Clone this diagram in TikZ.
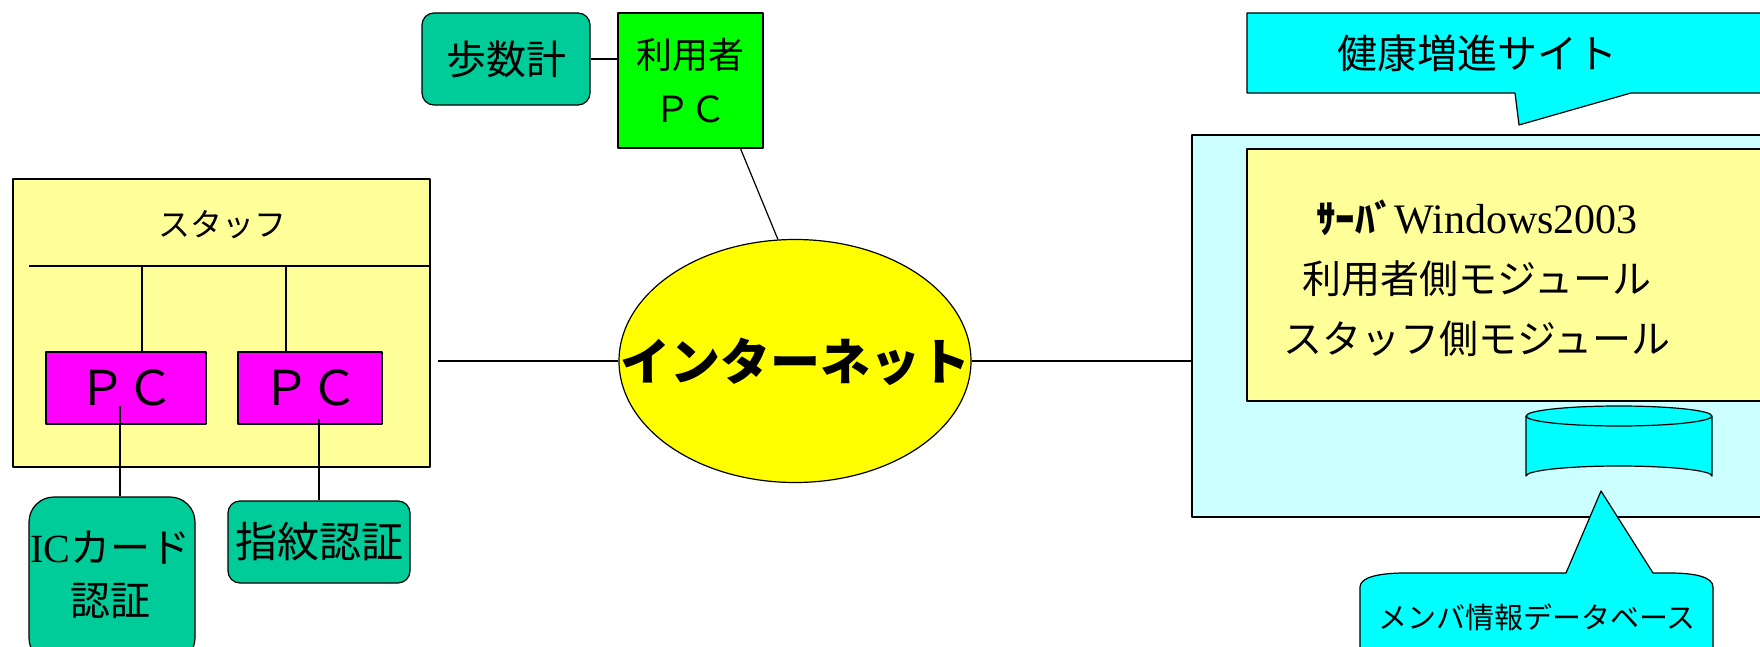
\documentclass[tikz,border=0pt]{standalone}
\usepackage{fontspec}
\setmainfont{Liberation Serif}
\newfontfamily\jp{Noto Sans CJK JP}
\usetikzlibrary{shapes.geometric}
\definecolor{teal}{HTML}{00CC99}
\definecolor{pcgreen}{HTML}{00FF00}
\definecolor{netyellow}{HTML}{FFFF00}
\definecolor{paleyellow}{HTML}{FFFF99}
\definecolor{pcmagenta}{HTML}{FF00FF}
\definecolor{sitecyan}{HTML}{00FFFF}
\definecolor{palecyan}{HTML}{CCFFFF}
\newcommand{\fsz}[1]{\fontsize{#1}{#1}\selectfont}
\tikzset{
	box/.style={draw,line width=1.2pt,inner sep=0pt,align=center},
	device/.style={box,fill=teal,rounded corners=12pt},
	conn/.style={line width=1.2pt},
}
\begin{document}
\begin{tikzpicture}[x=1pt,y=-1pt,line join=round,font=\jp]
	\useasboundingbox (0,0) rectangle (1760,647);
	\clip (0,0) rectangle (1760,647);
	% user side
	\node[device,minimum width=168pt,minimum height=92pt,font=\jp\fsz{40}] (pedometer) at (506,59) {歩数計};
	\node[box,fill=pcgreen,minimum width=145pt,minimum height=135pt,font=\jp\fontsize{36}{54}\selectfont] (userpc) at (690.5,80.5) {利用者\\ＰＣ};
	\node[box,ellipse,fill=netyellow,minimum width=352pt,minimum height=243pt] (internet) at (795,361) {};
	\node[font=\jp\bfseries\fsz{50}] (nettext) at (795,362) {インターネット};
	% staff side
	\node[box,fill=paleyellow,minimum width=417pt,minimum height=288pt] (staff) at (221.5,323) {};
	\node[font=\jp\fsz{32}] (stafftext) at (222,225) {スタッフ};
	\coordinate (busleft) at (29,266);
	\coordinate (bus1) at (142,266);
	\coordinate (bus2) at (286,266);
	\node[box,fill=pcmagenta,minimum width=160pt,minimum height=72pt,font=\jp\fsz{48}] (pc1) at (126,388) {ＰＣ};
	\node[box,fill=pcmagenta,minimum width=144pt,minimum height=72pt,font=\jp\fsz{48}] (pc2) at (310,388) {ＰＣ};
	\node[device,rounded corners=25pt,minimum width=166pt,minimum height=166pt] (iccard) at (112,580) {};
	\node[font=\jp\fontsize{40}{53}\selectfont,align=center] (ictext) at (110,575) {{\rmfamily IC}カード\\認証};
	\node[device,minimum width=182pt,minimum height=82pt,font=\jp\fsz{42}] (finger) at (319,542) {指紋認証};
	\coordinate (pc1dot) at (120,406);
	\coordinate (pc2dot) at (319,419);
	% site
	\draw[conn,fill=sitecyan] (1247,13) -- (1775,13) -- (1775,93) -- (1631,93) -- (1519,125) -- (1515,93) -- (1247,93) -- cycle;
	\node[font=\jp\fsz{40}] (sitetext) at (1477,53) {健康増進サイト};
	\node[box,fill=palecyan,minimum width=583pt,minimum height=382pt] (server) at (1483.5,326) {};
	\node[box,fill=paleyellow,minimum width=528pt,minimum height=252pt] (module) at (1511,275) {};
	\node[font=\jp\fontsize{39}{60}\selectfont,align=center] (modtext) at (1477,278) {{\bfseries ｻｰﾊﾞ}{\rmfamily\fontsize{42}{60}\selectfont Windows2003}\\利用者側モジュール\\スタッフ側モジュール};
	% database
	\draw[conn,fill=sitecyan] (1526,416) -- (1526,476) arc[start angle=180,end angle=360,x radius=93,y radius=10] -- (1712,416);
	\draw[conn,fill=sitecyan] (1619,416) ellipse[x radius=93,y radius=10];
	\coordinate (dbtip) at (1601,491);
	\draw[conn,fill=sitecyan] (1360,660) -- (1360,587) .. controls (1360,577) and (1380,573) .. (1405,573) -- (1566,573) -- (dbtip) -- (1653,573) -- (1670,573) .. controls (1695,573) and (1713,577) .. (1713,587) -- (1713,660);
	\node[font=\jp\fsz{29}] (dbtext) at (1537,617) {メンバ情報データベース};
	% connectors
	\draw[conn] (pedometer.east) -- (pedometer.east -| userpc.west);
	\draw[conn] ([xshift=50pt]userpc.south) -- (internet.98);
	\draw[conn] ([xshift=7pt]staff.east |- internet.west) -- (internet.west);
	\draw[conn] (internet.east) -- (internet.east -| server.west);
	\draw[conn] (busleft) -- (busleft -| staff.east);
	\draw[conn] (bus1) -- (bus1 |- pc1.north);
	\draw[conn] (bus2) -- (bus2 |- pc2.north);
	\draw[conn] (pc1dot) -- (pc1dot |- iccard.north);
	\draw[conn] (pc2dot) -- (finger.north);
\end{tikzpicture}
\end{document}
